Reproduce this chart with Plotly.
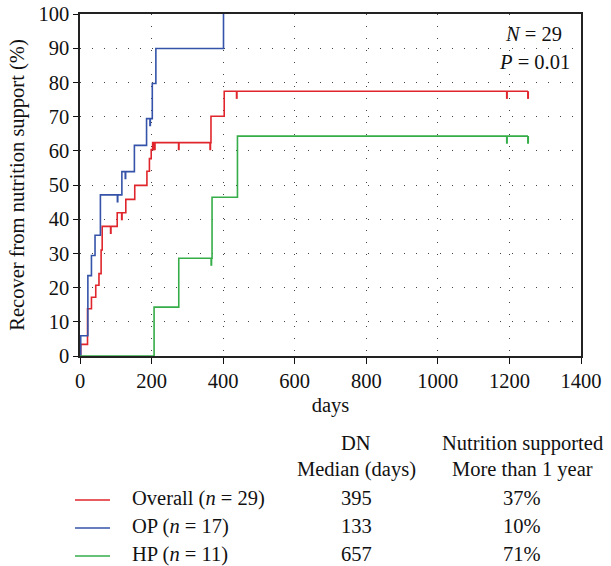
import numpy as np
import plotly.graph_objects as go

# ---- data ----
overall_days = [0, 2, 21, 32, 44, 53, 59, 62, 104, 128, 153, 187, 194, 199, 203, 366, 403, 1252]
overall_pct = [0, 3.4, 13.8, 17.2, 20.7, 24.1, 31.0, 37.9, 41.9, 45.8, 49.9, 54.0, 57.7, 60.4, 62.4, 70.1, 77.4, 77.4]
overall_cens = [86, 117, 204, 207, 209, 276, 364, 438, 1193, 1252]

op_days = [0, 2, 22, 32, 42, 57, 117, 152, 186, 202, 212, 401]
op_pct = [0, 5.9, 23.5, 29.4, 35.3, 47.1, 53.9, 61.6, 69.4, 79.7, 89.9, 100]
op_cens = [105, 127, 196]

hp_days = [0, 207, 276, 369, 440, 1252]
hp_pct = [0, 14.3, 28.6, 46.4, 64.3, 64.3]
hp_cens = [54, 57, 60, 86, 128, 367, 1193, 1252]

series_names = ["Overall", "OP", "HP"]
series_n = [29, 17, 11]
median_days = ["395", "133", "657"]
more_than_1y = ["37%", "10%", "71%"]
colors = ["#e0262c", "#3553a8", "#35ad48"]

x_ticks = [0, 200, 400, 600, 800, 1000, 1200, 1400]
y_ticks = [0, 10, 20, 30, 40, 50, 60, 70, 80, 90, 100]

FONT = "Liberation Serif"
FS = 20.5
TICK_DROP = 1.1  # half length of censor tick in % units


def level_at(days, pct, d):
    idx = np.searchsorted(np.array(days), d, side="right") - 1
    return pct[max(idx, 0)]


fig = go.Figure()
curves = [(overall_days, overall_pct, overall_cens),
          (op_days, op_pct, op_cens),
          (hp_days, hp_pct, hp_cens)]
for (d, p, c), col, name in zip(curves, colors, series_names):
    fig.add_trace(go.Scatter(x=d, y=p, mode="lines", line=dict(color=col, width=1.6, shape="hv"),
                             name=name, showlegend=False))
    cy = [level_at(d, p, cd) - TICK_DROP for cd in c]
    fig.add_trace(go.Scatter(x=c, y=cy, mode="markers", cliponaxis=False,
                             marker=dict(symbol="line-ns", size=5.5, line=dict(color=col, width=2)),
                             showlegend=False))

tf = dict(family=FONT, size=FS, color="#111")
fig.update_xaxes(range=[0, 1400], tickvals=x_ticks, ticks="outside", ticklen=6, tickcolor="#111",
                 showline=True, linecolor="#222", linewidth=1.5, mirror=True, automargin=False,
                 showgrid=True, gridcolor="#444", gridwidth=1, griddash="1px,11px",
                 zeroline=False, tickfont=tf,
                 title=dict(text="days", font=tf, standoff=6))
fig.update_yaxes(range=[0, 100], tickvals=y_ticks, ticks="outside", ticklen=5, tickcolor="#111",
                 showline=True, linecolor="#222", linewidth=1.5, mirror=True, automargin=False,
                 showgrid=True, gridcolor="#444", gridwidth=1, griddash="1px,11px",
                 zeroline=False, tickfont=tf,
                 title=dict(text="Recover from nutrition support (%)", font=tf, standoff=8))

W, H = 611, 566
L, R, T, B = 80, 30, 14, 210
pw, ph = W - L - R, H - T - B


def px_x(px):
    return (px - L) / pw


def px_y(py):
    return (H - B - py) / ph


ann = []
base = dict(xref="paper", yref="paper", showarrow=False, font=tf, yanchor="middle")
ann.append(dict(base, x=px_x(564), y=px_y(34), text="<i>N</i> = 29", xanchor="right"))
ann.append(dict(base, x=px_x(572), y=px_y(62), text="<i>P</i> = 0.01", xanchor="right"))
ann.append(dict(base, x=px_x(356), y=px_y(443), text="DN", xanchor="center"))
ann.append(dict(base, x=px_x(356), y=px_y(469), text="Median (days)", xanchor="center"))
ann.append(dict(base, x=px_x(522), y=px_y(443), text="Nutrition supported", xanchor="center"))
ann.append(dict(base, x=px_x(522), y=px_y(469), text="More than 1 year", xanchor="center"))

row_y = [498, 526, 554]
shapes = []
for name, n, med, pct, col, ry in zip(series_names, series_n, median_days, more_than_1y, colors, row_y):
    ann.append(dict(base, x=px_x(130), y=px_y(ry), text=f"{name} (<i>n</i> = {n})", xanchor="left"))
    ann.append(dict(base, x=px_x(356), y=px_y(ry), text=med, xanchor="center"))
    ann.append(dict(base, x=px_x(522), y=px_y(ry), text=pct, xanchor="center"))
    shapes.append(dict(type="line", xref="paper", yref="paper", x0=px_x(75), x1=px_x(110),
                       y0=px_y(ry + 2), y1=px_y(ry + 2), line=dict(color=col, width=1.3)))

fig.update_layout(width=W, height=H, margin=dict(l=L, r=R, t=T, b=B, autoexpand=False),
                  plot_bgcolor="white", paper_bgcolor="white",
                  annotations=ann, shapes=shapes, showlegend=False)

fig.write_html("out.html", config={"displayModeBar": False},
               post_script="document.body.style.margin='0';")
